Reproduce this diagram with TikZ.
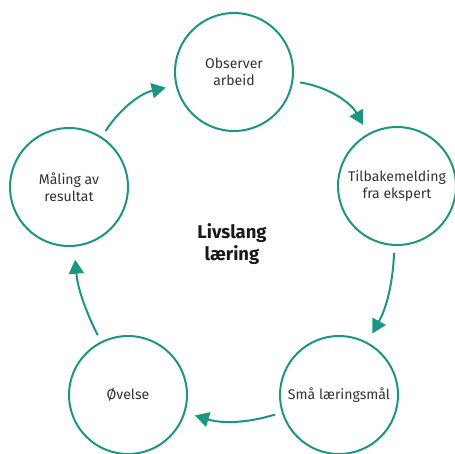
\documentclass[tikz,border=0pt]{standalone}
\usepackage{fontspec}
\setmainfont{Fira Sans}
\usepackage{tikz}
\usetikzlibrary{positioning, arrows.meta, calc}
\definecolor{loopteal}{HTML}{1B9683}
\tikzset{
    stepcircle/.style={draw=loopteal, line width=0.04cm, circle, minimum size=2.36cm, inner sep=1pt, align=center, font=\fontsize{8}{9.6}\selectfont, text=black!80},
    looparrow/.style={-{Triangle[length=0.28cm, width=0.3cm]}, draw=loopteal, line width=0.04cm, shorten <=0.14cm, shorten >=0.2cm},
    centerlbl/.style={align=center, font=\fontsize{10.5}{12.5}\selectfont\bfseries, text=black!90},
}

\begin{document}
\begin{tikzpicture}[x=0.02cm, y=-0.02cm]
        \useasboundingbox (0,0) rectangle (455,453);
        \node[stepcircle] (obs) at (234,72)  {Observer\\ arbeid};
        \node[stepcircle] (tilb) at (397,186) {Tilbakemelding\\ fra ekspert};
        \node[stepcircle] (maal) at (339,395) {Små læringsmål};
        \node[stepcircle] (ovel) at (128,395) {Øvelse};
        \node[stepcircle] (mal) at (69,187)  {Måling av\\ resultat};
        \node[centerlbl] (liv) at (232,244) {Livslang\\ læring};
        \draw[looparrow] (mal) to[bend left=22] (obs);
        \draw[looparrow] (obs) to[bend left=26] (tilb);
        \draw[looparrow] (tilb) to[bend left=13] (maal);
        \draw[looparrow] (maal) to[bend left=17] (ovel);
        \draw[looparrow, shorten >=0.26cm] (ovel) to[bend left=11] (mal);
    \end{tikzpicture}
\end{document}
